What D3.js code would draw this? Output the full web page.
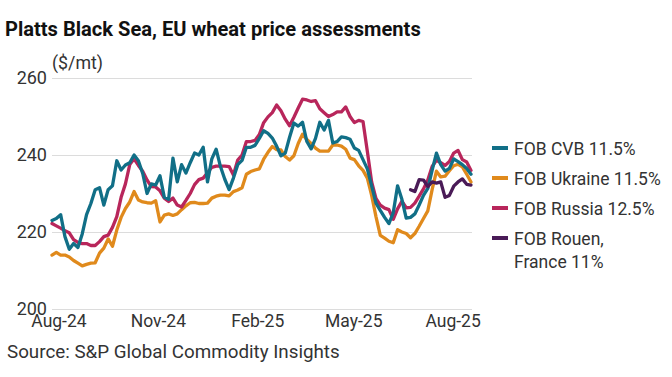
<!DOCTYPE html>
<html><head><meta charset="utf-8">
<script src="https://cdn.jsdelivr.net/npm/d3@7"></script>
<style>
body{margin:0;background:#fff}
svg{display:block;font-family:Roboto,"Noto Sans",sans-serif}
</style>
</head><body>
<svg id="chart" width="672" height="377"></svg>
<script>
// ---- data ----
const dates = ["2024-07-26","2024-07-30","2024-08-03","2024-08-07","2024-08-11","2024-08-15","2024-08-19","2024-08-23","2024-08-27","2024-08-31",
"2024-09-04","2024-09-08","2024-09-12","2024-09-16","2024-09-20","2024-09-24","2024-09-28","2024-10-02","2024-10-06","2024-10-10",
"2024-10-14","2024-10-18","2024-10-22","2024-10-26","2024-10-30","2024-11-03","2024-11-07","2024-11-11","2024-11-15","2024-11-19",
"2024-11-23","2024-11-27","2024-12-01","2024-12-05","2024-12-09","2024-12-13","2024-12-17","2024-12-21","2024-12-25","2024-12-29",
"2025-01-02","2025-01-06","2025-01-10","2025-01-14","2025-01-18","2025-01-22","2025-01-26","2025-01-30","2025-02-03","2025-02-07",
"2025-02-11","2025-02-15","2025-02-19","2025-02-23","2025-02-27","2025-03-03","2025-03-07","2025-03-11","2025-03-15","2025-03-19",
"2025-03-23","2025-03-27","2025-03-31","2025-04-04","2025-04-08","2025-04-12","2025-04-16","2025-04-20","2025-04-24","2025-04-28",
"2025-05-02","2025-05-06","2025-05-10","2025-05-14","2025-05-18","2025-05-22","2025-05-26","2025-05-30","2025-06-03","2025-06-07",
"2025-06-11","2025-06-15","2025-06-19","2025-06-23","2025-06-27","2025-07-01","2025-07-05","2025-07-09","2025-07-13","2025-07-17",
"2025-07-21","2025-07-25","2025-07-29","2025-08-02","2025-08-06","2025-08-10","2025-08-14","2025-08-18"];

const fobCVB = [223,223.5,224.5,218.8,215.5,217,216,219.5,224.5,227.4,
231,231.5,227,231,232,238.5,236.1,237.4,238,240,
238.5,235.2,230,232.5,232.2,234.6,229,228.5,239.2,233,
237.5,235.3,238,240.5,240,242,233,239,241.5,237,
233.7,231,234,237.5,238.6,242,242,242.5,244.3,246.3,
245.6,244.4,242.3,239.8,240.5,244.6,248.3,247.5,248.5,243.5,
241.6,244.3,248.5,246.5,249,243.1,243.5,244.7,244.5,244.1,
241.8,241.2,238.8,236.4,232,227.5,225.6,223.8,222.2,225,
232,228.5,223.6,223.8,224.7,227,229.5,231.3,236,240.5,
237.5,235.8,236.5,239,238.3,237.5,236.5,235];

const fobUkraine = [214,214.7,214,214,213.5,212.6,211.9,211.2,211.6,211.9,
212,214.5,215.8,218.2,216.3,220.5,223.8,226.1,227.8,230.5,
228.3,227.8,227.6,227.5,228.1,222.6,224.4,224.7,224.3,224.7,
225.8,226.8,227.6,227.7,227.4,227.4,227.5,228.8,229.3,229.6,
229.6,229.4,230.5,230.9,231.5,235,235.7,236.1,236.4,238.9,
240.7,242.2,241.4,241.3,239.6,238.7,239.8,243,245.4,244,
243,241.8,241,241,241,242.6,242.6,242.3,241.5,239.2,
238.8,237.2,236,234,229.5,224,219.1,218.4,217.6,217.2,
220.6,220,219.6,218.5,219.6,221.5,223.5,225.5,231,235.8,
234.3,234.5,235.9,237.2,237.6,236.9,235,233];

const fobRussia = [222.2,221.6,221,220.3,219.8,218,217.3,217,217,216.5,
216.5,217.5,218.8,219.2,221.2,224,229,232.5,237.5,239,
237.3,235.8,233.5,231.8,231.7,230.7,228.8,227.9,228.8,227,
226.5,228.2,230,232.3,233.6,234,235.4,236.8,237.1,237.1,
237.1,237,234.8,238.7,240,243.5,243.5,243.8,245.3,248.4,
249.9,251,253,251.5,249.3,247.6,249.8,252.2,254.5,254.3,
253.9,254.1,252,251,250,250.5,251.2,251.2,252.5,250,
248.4,249,248.7,241,233,228.7,227,226.2,225.8,223.3,
226,228,226.3,226.4,227.5,229.3,231.2,233.5,237,238.6,
238,237.3,238.3,240.5,241.2,238.8,238.2,236];

const fobRouen = [null,null,null,null,null,null,null,null,null,null,
null,null,null,null,null,null,null,null,null,null,
null,null,null,null,null,null,null,null,null,null,
null,null,null,null,null,null,null,null,null,null,
null,null,null,null,null,null,null,null,null,null,
null,null,null,null,null,null,null,null,null,null,
null,null,null,null,null,null,null,null,null,null,
null,null,null,null,null,null,null,null,null,null,
null,null,null,231,230.5,233.6,233.5,231.8,233,232.7,
233,229,229.5,231.9,233,233.8,232.4,232.2];

const seriesNames = ["FOB CVB 11.5%","FOB Ukraine 11.5%","FOB Russia 12.5%","FOB Rouen, France 11%"];
const legendLines = [["FOB CVB 11.5%"],["FOB Ukraine 11.5%"],["FOB Russia 12.5%"],["FOB Rouen,","France 11%"]];
const seriesColors = ["#116f87","#e08a1c","#b8265b","#4a1b57"];
const yTicks = [200,220,240,260];
const xTickDates = ["2024-08-01","2024-11-01","2025-02-01","2025-05-01","2025-08-01"];
const xTickLabels = ["Aug-24","Nov-24","Feb-25","May-25","Aug-25"];

// ---- chart ----
const svg = d3.select("#chart");
const parse = d3.timeParse("%Y-%m-%d");
const dts = dates.map(parse);

const x = d3.scaleTime().domain([dts[0], dts[dts.length-1]]).range([52, 471]);
const y = d3.scaleLinear().domain([200, 260]).range([309, 78]);

// y axis with gridlines
const yAx = svg.append("g").attr("transform","translate(52,0)")
  .call(d3.axisLeft(y).tickValues(yTicks).tickSize(-420).tickPadding(5).tickFormat(d3.format("d")));
yAx.select(".domain").remove();
yAx.selectAll(".tick line").attr("stroke","#dcdcdc").attr("stroke-width",1);
yAx.selectAll(".tick text").attr("font-size",18).attr("fill","#333").attr("font-family","Roboto,sans-serif").attr("dy","0.3em");

// x axis
const xAx = svg.append("g").attr("transform","translate(0,309)")
  .call(d3.axisBottom(x).tickValues(xTickDates.map(parse)).tickSize(0).tickPadding(6)
    .tickFormat((d,i)=>xTickLabels[i]));
xAx.select(".domain").remove();
xAx.selectAll(".tick text").attr("font-size",17.5).attr("fill","#333").attr("font-family","Roboto,sans-serif");

// lines
const all = [fobCVB, fobUkraine, fobRussia, fobRouen];
const drawOrder = [1,2,0,3];
const line = d3.line().defined(d=>d.v!=null).x(d=>x(d.d)).y(d=>y(d.v)).curve(d3.curveLinear);
drawOrder.forEach(i=>{
  const data = dts.map((d,j)=>({d, v: all[i][j]}));
  svg.append("path").datum(data).attr("d", line)
    .attr("fill","none").attr("stroke", seriesColors[i]).attr("stroke-width",3.3)
    .attr("stroke-linejoin","round").attr("stroke-linecap","round");
});

// title, unit, source
function fit(sel, w){
  const cur = sel.node().getComputedTextLength();
  const fs = parseFloat(sel.attr("font-size"));
  sel.attr("font-size", fs*w/cur);
}
const title = svg.append("text").attr("x",5).attr("y",36).attr("font-size",21).attr("font-weight",700)
  .attr("fill","#111").text("Platts Black Sea, EU wheat price assessments");
fit(title, 416);
const unit = svg.append("text").attr("x",52).attr("y",69).attr("font-size",16).attr("fill","#333").text("($/mt)");
fit(unit, 51);
const src = svg.append("text").attr("x",7).attr("y",358).attr("font-size",17).attr("fill","#333")
  .text("Source: S&P Global Commodity Insights");
fit(src, 333);

// legend
const legY = [148,178,208,238];
legendLines.forEach((lines,i)=>{
  const g = svg.append("g").attr("transform",`translate(492,${legY[i]})`);
  g.append("line").attr("x1",0).attr("x2",16).attr("y1",0).attr("y2",0)
    .attr("stroke",seriesColors[i]).attr("stroke-width",4);
  lines.forEach((t,k)=>{
    g.append("text").attr("x",22).attr("y",6.5 + k*23).attr("font-size",17.5).attr("fill","#333").text(t);
  });
});
</script>
</body></html>
